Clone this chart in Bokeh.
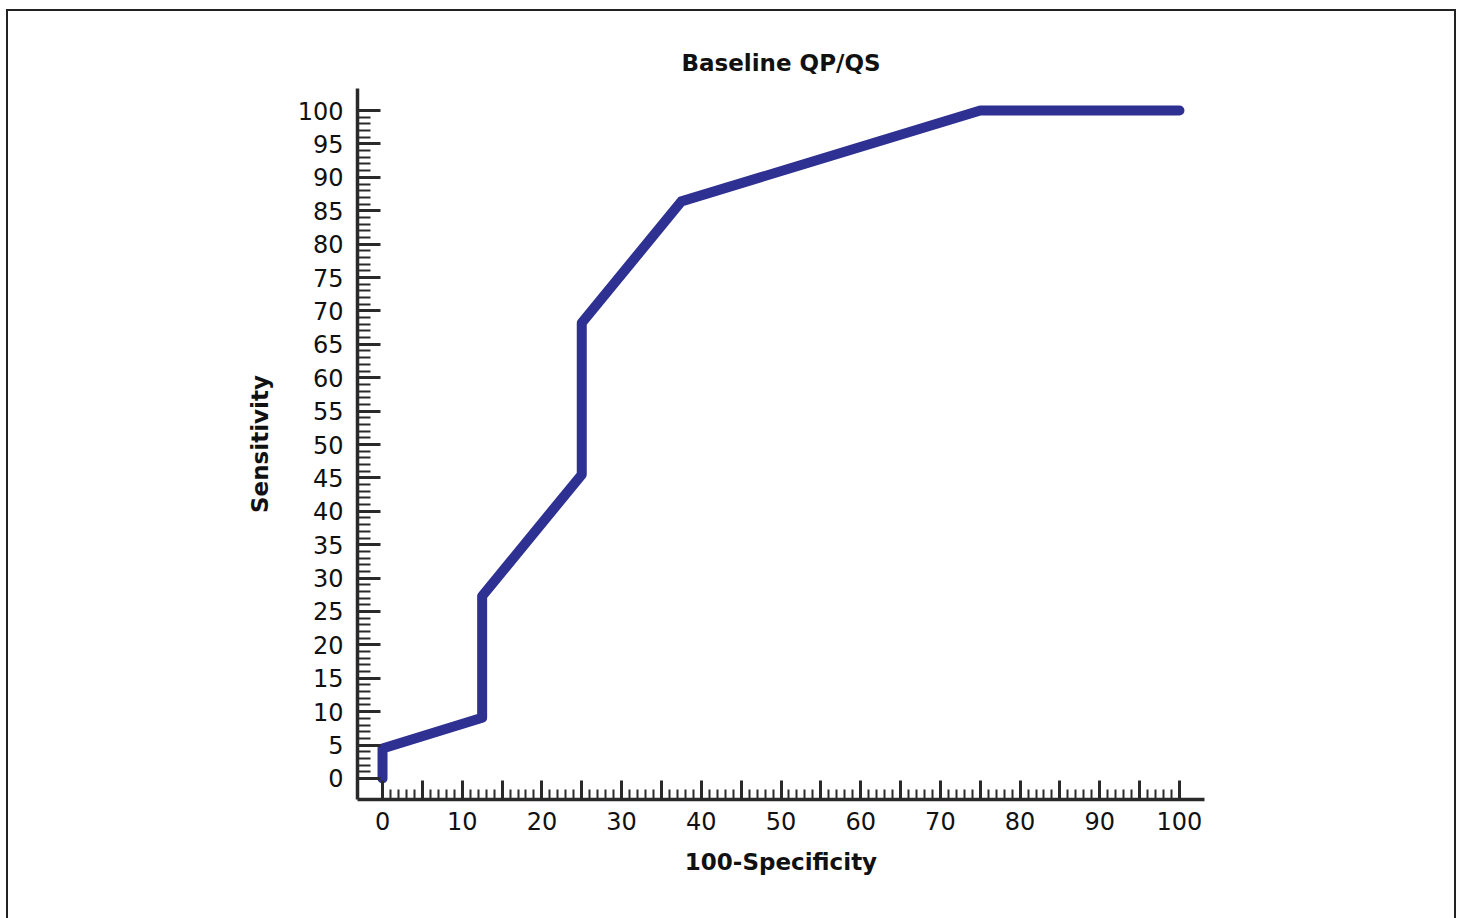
from bokeh.plotting import figure
from bokeh.models import FixedTicker, Range1d
from bokeh.embed import file_html
from bokeh.resources import INLINE

# ROC curve data
fpr = [0, 0, 12.5, 12.5, 25, 25, 37.5, 75, 100]          # 100-Specificity
sens = [0, 4.5, 9.1, 27.3, 45.5, 68.2, 86.4, 100, 100]   # Sensitivity

x_major = list(range(0, 101, 5))
x_labeled = list(range(0, 101, 10))
y_major = list(range(0, 101, 5))
minor = list(range(0, 101, 1))

FONT = "DejaVu Sans"
LINE_COLOR = "#2e3192"
AX = "#2a2a2a"

p = figure(width=1450, height=909, output_backend="svg", toolbar_location=None,
           x_range=Range1d(-3.14, 103.14), y_range=Range1d(-3.15, 103.3),
           min_border_left=349, min_border_right=254, min_border_top=77, min_border_bottom=121,
           title="Baseline QP/QS")
p.styles = {"margin-left": "6px", "margin-top": "9px",
            "border-top": "2px solid #222", "border-left": "2px solid #222",
            "border-right": "2px solid #222"}
p.outline_line_color = None
p.grid.visible = False
p.background_fill_color = "white"
p.border_fill_color = "white"

p.title.align = "center"
p.title.text_font = FONT
p.title.text_font_size = "23px"
p.title.text_font_style = "bold"
p.title.text_color = "#111"
p.title.standoff = 26

xa = p.xaxis[0]
xa.ticker = FixedTicker(ticks=x_major, minor_ticks=minor)
xa.major_label_overrides = {t: ("" if t not in x_labeled else str(t)) for t in x_major}
xa.axis_label = "100-Specificity"
ya = p.yaxis[0]
ya.ticker = FixedTicker(ticks=y_major, minor_ticks=minor)
ya.axis_label = "Sensitivity"

for ax in (xa, ya):
    ax.axis_line_color = AX
    ax.axis_line_width = 3.5
    ax.major_tick_line_color = AX
    ax.major_tick_line_width = 3
    ax.minor_tick_line_color = AX
    ax.minor_tick_line_width = 2
    ax.major_tick_out = 0
    ax.minor_tick_out = 0
    ax.major_label_text_font = FONT
    ax.major_label_text_font_size = "24px"
    ax.major_label_text_color = "#111"
    ax.axis_label_text_font = FONT
    ax.axis_label_text_font_size = "23px"
    ax.axis_label_text_font_style = "bold"
    ax.axis_label_text_color = "#111"

xa.major_tick_in = 19
xa.minor_tick_in = 10
xa.major_label_standoff = 12
xa.axis_label_standoff = 16
ya.major_tick_in = 23
ya.minor_tick_in = 13
ya.major_label_standoff = 14
ya.axis_label_standoff = 22

p.line(fpr, sens, line_color=LINE_COLOR, line_width=10, line_cap="round", line_join="round")

open("out.html", "w").write(file_html(p, INLINE))
